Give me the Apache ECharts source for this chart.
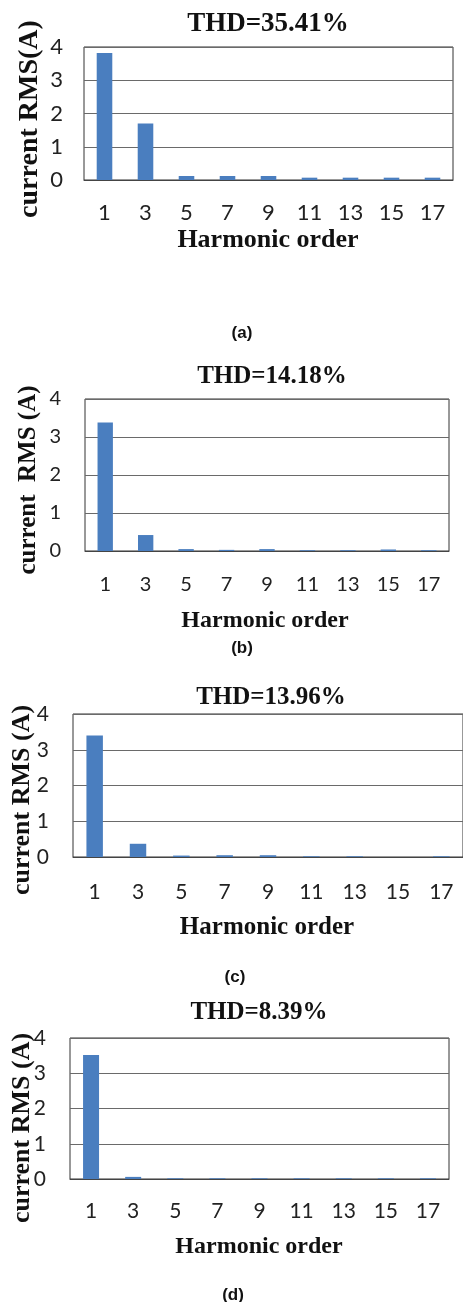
<!DOCTYPE html>
<html>
<head>
<meta charset="utf-8">
<script src="https://cdn.jsdelivr.net/npm/echarts@6/dist/echarts.min.js"></script>
<style>
  html, body { margin: 0; padding: 0; background: #fff; }
  #chart { width: 463px; height: 1302px; }
</style>
</head>
<body>
<div id="chart"></div>
<script>
// Harmonic orders on the x axis
const harmonicOrders = ['1', '3', '5', '7', '9', '11', '13', '15', '17'];

// Harmonic current RMS (A) for each case
const rmsA = [3.82, 1.70, 0.12, 0.12, 0.12, 0.07, 0.07, 0.07, 0.07];
const rmsB = [3.38, 0.42, 0.05, 0.03, 0.05, 0.02, 0.02, 0.04, 0.02];
const rmsC = [3.40, 0.37, 0.04, 0.05, 0.05, 0.02, 0.02, 0.00, 0.02];
const rmsD = [3.52, 0.06, 0.02, 0.02, 0.02, 0.02, 0.02, 0.02, 0.02];

const thdTitles = ['THD=35.41%', 'THD=14.18%', 'THD=13.96%', 'THD=8.39%'];
const yNames = ['current RMS(A)', 'current  RMS (A)', 'current RMS (A)', 'current RMS (A)'];
const captions = ['(a)', '(b)', '(c)', '(d)'];

const seriesData = [rmsA, rmsB, rmsC, rmsD];

// Panel layout (pixels)
const panels = [
  { left: 84, right: 10, top: 47,   height: 133, tickSize: 22, labelMargin: 22, ySize: 22, yTickX: 57,
    title: { x: 268, y: 24, size: 27 }, yName: { x: 30, y: 119, size: 28 },
    xName: { x: 268, y: 240, size: 26 }, cap: { x: 242, y: 333 } },
  { left: 85, right: 14, top: 399,  height: 152, tickSize: 20, labelMargin: 24, ySize: 20, yTickX: 55,
    title: { x: 272, y: 377, size: 25 }, yName: { x: 29, y: 480, size: 25 },
    xName: { x: 265, y: 621, size: 24 }, cap: { x: 242, y: 648 } },
  { left: 73, right: 0,  top: 714,  height: 143, tickSize: 21, labelMargin: 25, ySize: 21, yTickX: 43,
    title: { x: 271, y: 698, size: 25 }, yName: { x: 22, y: 800, size: 26 },
    xName: { x: 267, y: 928, size: 25 }, cap: { x: 235, y: 977 } },
  { left: 70, right: 14, top: 1038, height: 141, tickSize: 21, labelMargin: 22, ySize: 21, yTickX: 40,
    title: { x: 259, y: 1013, size: 25 }, yName: { x: 22, y: 1128, size: 26 },
    xName: { x: 259, y: 1247, size: 24 }, cap: { x: 233, y: 1295 } }
];

const serif = '"Liberation Serif", "Times New Roman", serif';
const sans = 'Lato, "Open Sans", sans-serif';

const grid = [], xAxis = [], yAxis = [], series = [], graphic = [];

panels.forEach((p, i) => {
  grid.push({
    left: p.left, right: p.right, top: p.top, height: p.height,
    show: true, borderColor: '#333', borderWidth: 1, backgroundColor: '#fff'
  });
  xAxis.push({
    type: 'category', gridIndex: i, data: harmonicOrders,
    axisTick: { show: false },
    axisLine: { lineStyle: { color: '#444', width: 1 } },
    axisLabel: { color: '#222', fontFamily: sans, fontSize: p.tickSize, margin: p.labelMargin }
  });
  yAxis.push({
    type: 'value', gridIndex: i, min: 0, max: 4, interval: 1,
    axisLine: { show: false }, axisTick: { show: false },
    splitLine: { lineStyle: { color: '#6a6a6a', width: 1 } },
    axisLabel: { color: '#222', fontFamily: sans, fontSize: p.ySize, margin: p.left - p.yTickX - 6 }
  });
  series.push({
    type: 'bar', xAxisIndex: i, yAxisIndex: i,
    data: seriesData[i], barWidth: '38%',
    itemStyle: { color: '#4a7ebf' },
    silent: true
  });

  graphic.push(
    { type: 'text', x: p.title.x, y: p.title.y,
      style: { text: thdTitles[i], fontFamily: serif, fontWeight: 'bold', fontSize: p.title.size,
               fill: '#111', textAlign: 'center', textVerticalAlign: 'middle' } },
    { type: 'text', x: p.yName.x, y: p.yName.y, rotation: Math.PI / 2,
      style: { text: yNames[i], fontFamily: serif, fontWeight: 'bold', fontSize: p.yName.size,
               fill: '#111', textAlign: 'center', textVerticalAlign: 'middle' } },
    { type: 'text', x: p.xName.x, y: p.xName.y,
      style: { text: 'Harmonic order', fontFamily: serif, fontWeight: 'bold', fontSize: p.xName.size,
               fill: '#111', textAlign: 'center', textVerticalAlign: 'middle' } },
    { type: 'text', x: p.cap.x, y: p.cap.y,
      style: { text: captions[i], fontFamily: '"Liberation Sans", Arial, sans-serif', fontWeight: 'bold',
               fontSize: 17, fill: '#111', textAlign: 'center', textVerticalAlign: 'middle' } }
  );
});

const chart = echarts.init(document.getElementById('chart'), null, { renderer: 'canvas' });
chart.setOption({
  animation: false,
  backgroundColor: '#fff',
  grid, xAxis, yAxis, series, graphic
});
</script>
</body>
</html>
